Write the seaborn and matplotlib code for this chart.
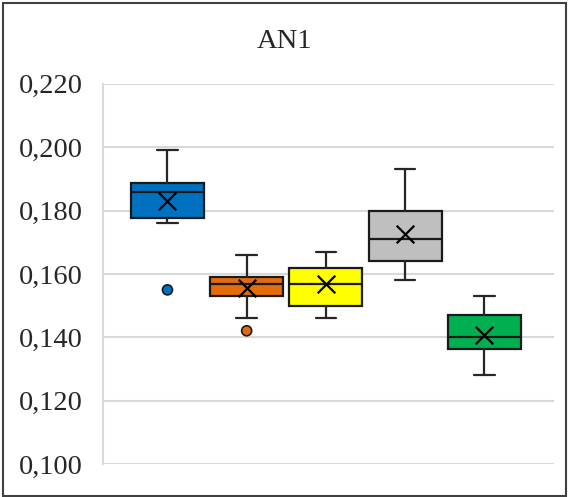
import numpy as np
import pandas as pd
import seaborn as sns
import matplotlib.pyplot as plt
from matplotlib.patches import Rectangle
from matplotlib.ticker import FuncFormatter

# Valores (5 séries, uma caixa por série)
series = ['S1', 'S2', 'S3', 'S4', 'S5']
colors = ['#0070C0', '#E46C0A', '#FFFF00', '#BFBFBF', '#00B050']
whislo = [0.1760, 0.1460, 0.1461, 0.1580, 0.1281]
q1 = [0.1778, 0.1530, 0.1500, 0.1640, 0.1362]
med = [0.1860, 0.1570, 0.1570, 0.1710, 0.1401]
q3 = [0.1888, 0.1592, 0.1620, 0.1800, 0.1471]
whishi = [0.1990, 0.1660, 0.1670, 0.1930, 0.1530]
means = [0.1829, 0.1556, 0.1567, 0.1726, 0.1409]
outliers = [[0.1550], [0.1421], [], [], []]
yticks = [0.100, 0.120, 0.140, 0.160, 0.180, 0.200, 0.220]

sns.set_theme(style='white')
plt.rcParams['font.family'] = ['Liberation Serif', 'DejaVu Serif']

fig = plt.figure(figsize=(5.68, 4.97), dpi=100)
ax = fig.add_axes([102.5 / 568, 1 - 464.3 / 497, (554 - 102.5) / 568, (464.3 - 83.7) / 497])

pos = np.arange(len(series))
stats = [dict(label=s, whislo=a, q1=b, med=c, q3=d, whishi=e, fliers=[])
         for s, a, b, c, d, e in zip(series, whislo, q1, med, q3, whishi)]

lw = 1.6
bp = ax.bxp(stats, positions=pos, widths=0.92, capwidths=0.26, patch_artist=True,
            showfliers=False,
            boxprops=dict(edgecolor='#1a1a1a', linewidth=lw),
            medianprops=dict(color='#1a1a1a', linewidth=lw),
            whiskerprops=dict(color='#262626', linewidth=lw),
            capprops=dict(color='#262626', linewidth=lw))
for patch, c in zip(bp['boxes'], colors):
    patch.set_facecolor(c)

# Médias (X)
sns.scatterplot(x=pos, y=means, marker='x', s=160, color='black', linewidth=1.6,
                ax=ax, zorder=5, legend=False)

# Outliers
df_out = pd.DataFrame([(p, v, s) for p, vals, s in zip(pos, outliers, series) for v in vals],
                      columns=['pos', 'val', 'serie'])
sns.scatterplot(data=df_out, x='pos', y='val', hue='serie',
                palette=dict(zip(series, colors)), edgecolor='#1a1a1a', linewidth=1.2,
                s=52, ax=ax, zorder=5, legend=False)

ax.set_xlim(-0.82, 4.88)
ax.set_ylim(0.100, 0.220)
ax.set_yticks(yticks)
ax.yaxis.set_major_formatter(FuncFormatter(lambda v, _: f'{v:.3f}'.replace('.', ',')))
ax.set_xticks([])
ax.set_xlabel('')
ax.set_ylabel('')
ax.grid(axis='y', color='#D9D9D9', linewidth=1.5)
ax.set_axisbelow(True)
ax.tick_params(axis='y', length=0, pad=14, labelsize=20.5)
for side in ['top', 'right', 'bottom']:
    ax.spines[side].set_visible(False)
ax.spines['left'].set_color('#D9D9D9')
ax.spines['left'].set_linewidth(1.5)

fig.text(0.5, 1 - 42 / 497, 'AN1', ha='center', va='center', fontsize=20.5)
fig.add_artist(Rectangle((3 / 568, 1 - 496 / 497), 563 / 568, 493 / 497,
                         transform=fig.transFigure, fill=False,
                         edgecolor='#404040', linewidth=1.5))

fig.savefig('out.png', dpi=100)
